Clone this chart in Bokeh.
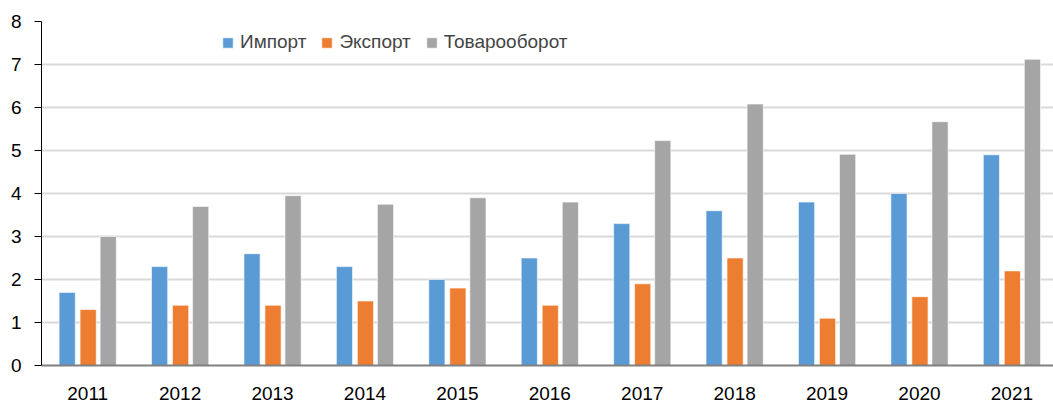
from bokeh.plotting import figure
from bokeh.models import ColumnDataSource, Legend, LegendItem, Range1d, FixedTicker
from bokeh.transform import dodge
from bokeh.embed import file_html
from bokeh.resources import INLINE

years = ["2011", "2012", "2013", "2014", "2015", "2016", "2017", "2018", "2019", "2020", "2021"]
imports = [1.7, 2.3, 2.6, 2.3, 2.0, 2.5, 3.3, 3.6, 3.8, 4.0, 4.9]
exports = [1.3, 1.4, 1.4, 1.5, 1.8, 1.4, 1.9, 2.5, 1.1, 1.6, 2.2]
turnover = [3.0, 3.7, 3.95, 3.75, 3.9, 3.8, 5.23, 6.08, 4.91, 5.67, 7.12]
series_names = ["Импорт", "Экспорт", "Товарооборот"]
colors = ["#5b9bd5", "#ed7d31", "#a5a5a5"]

idx = list(range(len(years)))
src = ColumnDataSource(dict(i=idx, year=years, imp=imports, exp=exports, tot=turnover))

FONT = "Liberation Sans"
p = figure(width=1053, height=404, x_range=Range1d(-0.5, 10.45), y_range=Range1d(0, 8),
           output_backend="svg", toolbar_location=None,
           min_border_left=41, min_border_right=0, min_border_top=21, min_border_bottom=39)
p.outline_line_color = None
p.background_fill_color = "white"
p.border_fill_color = "white"

W = 0.175
r1 = p.vbar(x=dodge("i", -0.222), top="imp", width=W, source=src,
            fill_color=colors[0], line_color="white", line_width=0.6)
r2 = p.vbar(x=dodge("i", 0.005), top="exp", width=W, source=src,
            fill_color=colors[1], line_color="white", line_width=0.6)
r3 = p.vbar(x=dodge("i", 0.222), top="tot", width=W, source=src,
            fill_color=colors[2], line_color="white", line_width=0.6)

p.xgrid.grid_line_color = None
p.ygrid.grid_line_color = "#d9d9d9"
p.ygrid.grid_line_width = 2
p.yaxis.ticker = FixedTicker(ticks=list(range(0, 9)))
p.yaxis.axis_line_color = "black"
p.yaxis.axis_line_width = 1
p.yaxis.major_tick_line_color = "black"
p.yaxis.major_tick_out = 7
p.yaxis.major_tick_in = 0
p.yaxis.minor_tick_line_color = None
p.yaxis.major_label_standoff = 13
p.xaxis.ticker = FixedTicker(ticks=idx)
p.xaxis.major_label_overrides = {i: y for i, y in zip(idx, years)}
p.xaxis.axis_line_color = "#808080"
p.xaxis.axis_line_width = 2
p.xaxis.major_tick_line_color = None
p.xaxis.minor_tick_line_color = None
p.xaxis.major_label_standoff = 15
for ax in (p.xaxis, p.yaxis):
    ax.major_label_text_font = FONT
    ax.major_label_text_font_size = "19px"
    ax.major_label_text_color = "black"

legend = Legend(items=[LegendItem(label=series_names[0], renderers=[r1]),
                       LegendItem(label=series_names[1], renderers=[r2]),
                       LegendItem(label=series_names[2], renderers=[r3])],
                orientation="horizontal", location=(180, 312),
                label_text_font=FONT, label_text_font_size="19px",
                glyph_width=13, glyph_height=13, label_standoff=6, spacing=14,
                padding=0, margin=0, border_line_color=None,
                background_fill_alpha=0)
p.add_layout(legend, "center")

open("out.html", "w").write(file_html(p, INLINE))
